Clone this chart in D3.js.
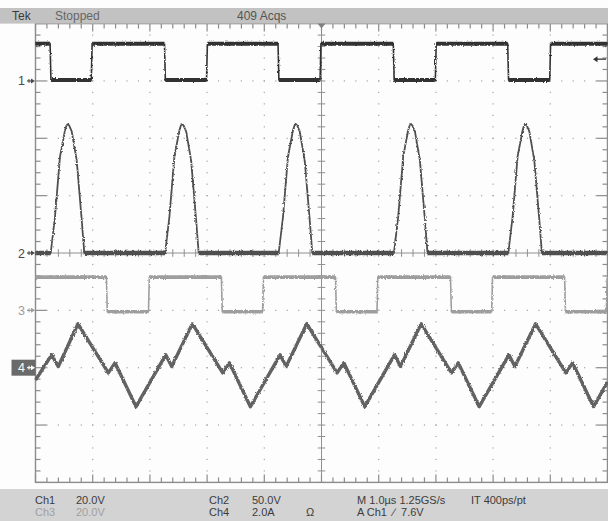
<!DOCTYPE html>
<html>
<head>
<meta charset="utf-8">
<script src="https://cdn.jsdelivr.net/npm/d3@7"></script>
<style>
  html, body { margin: 0; padding: 0; background: #fff; }
  svg { display: block; }
  text { font-family: "Liberation Sans", Arial, sans-serif; white-space: pre; }
</style>
</head>
<body>
<svg id="scope" width="608" height="521"></svg>
<script>
"use strict";

// time in us, value in V (A for ch4)
const ch1 = [[0,13],[0.255,13],[0.27,0.3],[0.975,0.3],[0.99,13],[2.255,13],[2.27,0.3],[2.99,0.3],
  [3.005,13],[4.24,13],[4.255,0.3],[4.975,0.3],[4.99,13],[6.255,13],[6.27,0.3],[6.99,0.3],
  [7.005,13],[8.255,13],[8.27,0.3],[8.99,0.3],[9.005,13],[10,13]];

const ch2 = [[0,0],
  [0.266,0],[0.341,31.6],[0.428,84],[0.516,107],[0.54,111],[0.563,112.5],[0.59,111],[0.633,106],[0.72,81],[0.808,28.8],[0.853,0],
  [2.266,0],[2.341,31.6],[2.428,84],[2.516,107],[2.54,111],[2.563,112.5],[2.59,111],[2.633,106],[2.72,81],[2.808,28.8],[2.853,0],
  [4.252,0],[4.327,31.6],[4.414,84],[4.502,107],[4.526,111],[4.549,112.5],[4.576,111],[4.619,106],[4.706,81],[4.794,28.8],[4.839,0],
  [6.266,0],[6.341,31.6],[6.428,84],[6.516,107],[6.54,111],[6.563,112.5],[6.59,111],[6.633,106],[6.72,81],[6.808,28.8],[6.853,0],
  [8.266,0],[8.341,31.6],[8.428,84],[8.516,107],[8.54,111],[8.563,112.5],[8.59,111],[8.633,106],[8.72,81],[8.808,28.8],[8.853,0],
  [10,0]];

const ch3 = [[0,11.6],[1.24,11.6],[1.255,-0.5],[1.975,-0.5],[1.99,11.6],[3.25,11.6],[3.265,-0.5],[3.97,-0.5],
  [3.985,11.6],[5.245,11.6],[5.26,-0.5],[5.97,-0.5],[5.985,11.6],[7.255,11.6],[7.27,-0.5],[7.975,-0.5],
  [7.99,11.6],[9.25,11.6],[9.265,-0.5],[9.98,-0.5],[9.995,11.6]];

const ch4 = [[0,-0.43],
  [0.283,0.45],[0.399,0.04],[0.743,1.53],[1.273,-0.18],[1.39,0.17],[1.757,-1.36],
  [2.276,0.45],[2.381,0.04],[2.743,1.53],[3.273,-0.18],[3.39,0.17],[3.757,-1.36],
  [4.276,0.45],[4.381,0.04],[4.743,1.53],[5.273,-0.18],[5.39,0.17],[5.757,-1.36],
  [6.276,0.45],[6.381,0.04],[6.743,1.53],[7.273,-0.18],[7.39,0.17],[7.757,-1.36],
  [8.276,0.45],[8.381,0.04],[8.743,1.53],[9.273,-0.18],[9.39,0.17],[9.757,-1.36],
  [10,-0.5]];

const chNames = ["1", "2", "3", "4"];
const chScale = [20, 50, 20, 2];      // volts (amps) per division
const chOffset = [3, 0, -1, -2];      // ground marker, divisions from centre

const headerLabels = ["Tek", "Stopped", "409 Acqs"];
const footerTop = ["Ch1", "20.0V", "Ch2", "50.0V", "M 1.0\u00b5s 1.25GS/s", "IT 400ps/pt"];
const footerBottom = ["Ch3", "20.0V", "Ch4", "2.0A", "\u03a9", "A Ch1  \u2215  7.6V"];

const svg = d3.select("#scope");

const x = d3.scaleLinear().domain([0, 10]).range([35.5, 607.5]);
const yDiv = d3.scaleLinear().domain([-4, 4]).range([482.4, 23.6]);

// noise look for the traces
const defs = svg.append("defs");
const fuzz = defs.append("filter").attr("id", "fuzz")
  .attr("filterUnits", "userSpaceOnUse").attr("x", 0).attr("y", 0).attr("width", 608).attr("height", 521);
fuzz.append("feTurbulence").attr("type", "fractalNoise").attr("baseFrequency", "0.9 0.6")
  .attr("numOctaves", 1).attr("seed", 4).attr("result", "n");
fuzz.append("feDisplacementMap").attr("in", "SourceGraphic").attr("in2", "n")
  .attr("scale", 3).attr("xChannelSelector", "R").attr("yChannelSelector", "G");

// screen background
svg.append("rect").attr("width", 608).attr("height", 521).attr("fill", "#fdfdfd");

// ---- graticule
const grid = svg.append("g");
const gridColor = "#a3a3a3";
const minor = d3.range(0, 50.01, 1).map(i => i / 5);   // every 0.2 div horizontally
const minorY = d3.range(0, 40.01, 1).map(i => i / 5 - 4);

// dotted division lines
[1, 2, 3, 4, 6, 7, 8, 9].forEach(i => {
  grid.selectAll(null).data(minorY).enter().append("rect")
    .attr("x", x(i) - 0.6).attr("y", d => yDiv(d) - 0.6)
    .attr("width", 1.2).attr("height", 1.2).attr("fill", gridColor);
});
[-3, -2, -1, 1, 2, 3].forEach(j => {
  grid.selectAll(null).data(minor).enter().append("rect")
    .attr("x", d => x(d) - 0.6).attr("y", yDiv(j) - 0.6)
    .attr("width", 1.2).attr("height", 1.2).attr("fill", gridColor);
});

// centre lines with ticks
grid.append("line").attr("x1", x(0)).attr("x2", x(10)).attr("y1", yDiv(0)).attr("y2", yDiv(0))
  .attr("stroke", "#909090").attr("stroke-width", 1);
grid.append("line").attr("x1", x(5)).attr("x2", x(5)).attr("y1", yDiv(4)).attr("y2", yDiv(-4))
  .attr("stroke", "#909090").attr("stroke-width", 1);
grid.selectAll(null).data(minor).enter().append("line")
  .attr("x1", d => x(d)).attr("x2", d => x(d))
  .attr("y1", yDiv(0) - 3.8).attr("y2", yDiv(0) + 3.8)
  .attr("stroke", "#909090");
grid.selectAll(null).data(minorY).enter().append("line")
  .attr("y1", d => yDiv(d)).attr("y2", d => yDiv(d))
  .attr("x1", x(5) - 3.8).attr("x2", x(5) + 3.8)
  .attr("stroke", "#909090");

// edges with inward ticks
const isMajor = d => Math.abs(d - Math.round(d)) < 1e-6;
const edgeColor = "#8c8c8c";
grid.append("rect").attr("x", x(0)).attr("y", yDiv(4))
  .attr("width", x(10) - x(0)).attr("height", yDiv(-4) - yDiv(4))
  .attr("fill", "none").attr("stroke", edgeColor).attr("stroke-width", 1.4);
grid.selectAll(null).data(minor).enter().append("line")
  .attr("x1", d => x(d)).attr("x2", d => x(d))
  .attr("y1", yDiv(4)).attr("y2", d => yDiv(4) + (isMajor(d) ? 8 : 5))
  .attr("stroke", edgeColor).attr("stroke-width", 1.2);
grid.selectAll(null).data(minor).enter().append("line")
  .attr("x1", d => x(d)).attr("x2", d => x(d))
  .attr("y1", yDiv(-4)).attr("y2", d => yDiv(-4) - (isMajor(d) ? 8 : 5))
  .attr("stroke", edgeColor).attr("stroke-width", 1.2);
grid.selectAll(null).data(minorY).enter().append("line")
  .attr("y1", d => yDiv(d)).attr("y2", d => yDiv(d))
  .attr("x1", x(0)).attr("x2", d => x(0) + (isMajor(d) ? 11 : 5))
  .attr("stroke", edgeColor).attr("stroke-width", 1.2);
grid.selectAll(null).data(minorY).enter().append("line")
  .attr("y1", d => yDiv(d)).attr("y2", d => yDiv(d))
  .attr("x1", x(10)).attr("x2", d => x(10) - (isMajor(d) ? 11 : 5))
  .attr("stroke", edgeColor).attr("stroke-width", 1.2);

// ---- header and footer bars
svg.append("rect").attr("x", 0).attr("y", 8).attr("width", 608).attr("height", 15.6).attr("fill", "#c2c2c2");
svg.append("rect").attr("x", 0).attr("y", 489).attr("width", 608).attr("height", 32).attr("fill", "#d3d3d3");

// trigger position marker
svg.append("path")
  .attr("d", `M${x(5) - 4},${yDiv(4)} L${x(5) + 4},${yDiv(4)} L${x(5)},${yDiv(4) + 5} Z`)
  .attr("fill", "#808080");

const headerX = [12, 55, 237];
const headerColor = ["#3a3a3a", "#666666", "#555555"];
svg.selectAll(null).data(headerLabels).enter().append("text")
  .attr("x", (d, i) => headerX[i]).attr("y", 20.2)
  .attr("font-size", 12).attr("fill", (d, i) => headerColor[i]).text(d => d);

const footerTopX = [35, 76, 209, 252, 357, 471];
const footerBottomX = [35, 76, 209, 252, 306, 357];
svg.selectAll(null).data(footerTop).enter().append("text")
  .attr("x", (d, i) => footerTopX[i]).attr("y", 504)
  .attr("font-size", 11).attr("fill", "#3c3c3c").text(d => d);
svg.selectAll(null).data(footerBottom).enter().append("text")
  .attr("x", (d, i) => footerBottomX[i]).attr("y", 516)
  .attr("font-size", 11).attr("fill", (d, i) => i < 2 ? "#a0a0a0" : "#3c3c3c").text(d => d);

// ---- traces
const traceColor = ["#333333", "#505050", "#9e9e9e", "#626262"];
const flatWidth = [4, 4.5, 3.6, 0];
const edgeWidth = [1.6, 1.8, 1.6, 3.4];
const traces = [ch1, ch2, ch3, ch4];

const plot = svg.append("g").attr("filter", "url(#fuzz)");
traces.forEach((data, c) => {
  const yv = v => yDiv(v / chScale[c] + chOffset[c]);
  const line = d3.line().x(d => x(d[0])).y(d => yv(d[1]));
  plot.append("path").attr("d", line(data))
    .attr("fill", "none").attr("stroke", traceColor[c])
    .attr("stroke-width", edgeWidth[c]).attr("stroke-linejoin", "round");
  if (flatWidth[c] > 0) {
    const flats = d3.pairs(data).filter(p => p[0][1] === p[1][1]);
    plot.selectAll(null).data(flats).enter().append("line")
      .attr("x1", p => x(p[0][0])).attr("x2", p => x(p[1][0]))
      .attr("y1", p => yv(p[0][1])).attr("y2", p => yv(p[1][1]))
      .attr("stroke", traceColor[c]).attr("stroke-width", flatWidth[c]);
  }
});

// ---- channel ground markers
const markerColor = ["#4a4a4a", "#4a4a4a", "#9c9c9c", "#ffffff"];
chNames.forEach((n, c) => {
  const yy = yDiv(chOffset[c]);
  const g = svg.append("g");
  if (c === 3) {
    g.append("rect").attr("x", 11.5).attr("y", yy - 8).attr("width", 24).attr("height", 16).attr("fill", "#6a6a6a");
  }
  g.append("text").attr("x", 18).attr("y", yy + 4.5).attr("font-size", 12.5)
    .attr("fill", markerColor[c]).text(n);
  g.append("line").attr("x1", 27).attr("x2", 33).attr("y1", yy).attr("y2", yy)
    .attr("stroke", markerColor[c]).attr("stroke-width", 1.2);
  g.append("path").attr("d", `M${35},${yy} L${31},${yy - 2.5} L${31},${yy + 2.5} Z`).attr("fill", markerColor[c]);
  g.append("line").attr("x1", 29).attr("x2", 29).attr("y1", yy - 2).attr("y2", yy + 2)
    .attr("stroke", markerColor[c]).attr("stroke-width", 1);
});

// trigger level arrow (Ch1, 7.6 V)
const trigY = yDiv(7.6 / chScale[0] + chOffset[0]);
svg.append("line").attr("x1", 596).attr("x2", 606).attr("y1", trigY).attr("y2", trigY)
  .attr("stroke", "#333").attr("stroke-width", 1.3);
svg.append("path").attr("d", `M${593},${trigY} L${597.5},${trigY - 3} L${597.5},${trigY + 3} Z`).attr("fill", "#333");
</script>
</body>
</html>
